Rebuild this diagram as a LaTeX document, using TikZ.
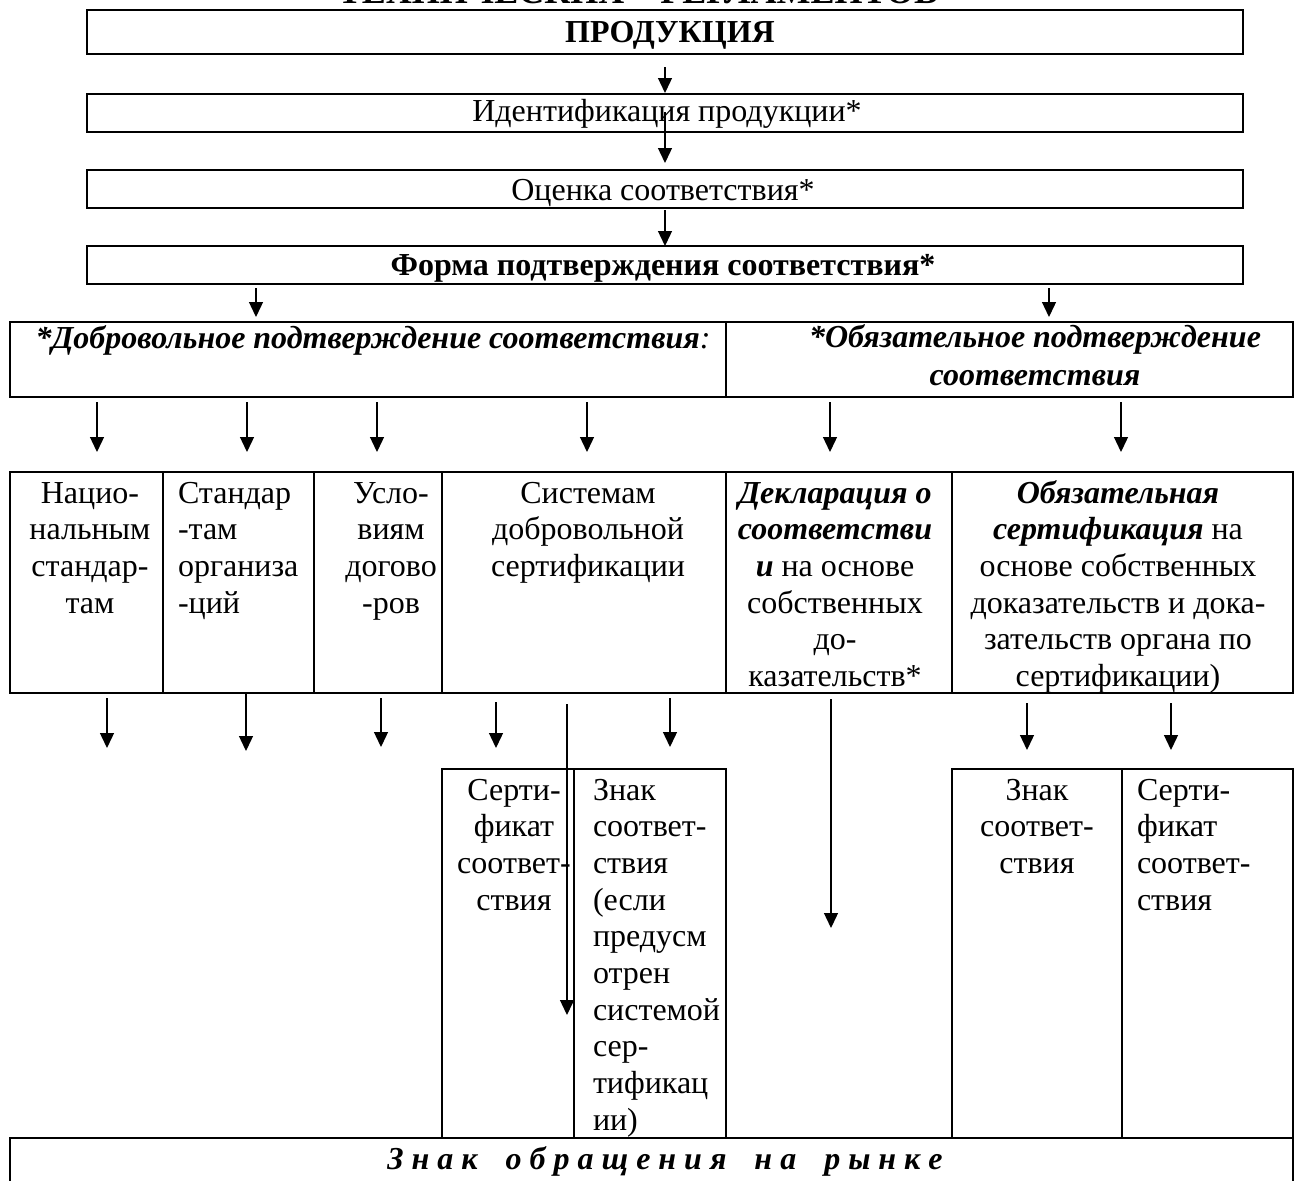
\documentclass[tikz,border=0pt]{standalone}
\usepackage{fontspec}
\setmainfont{Liberation Serif}
\usetikzlibrary{arrows.meta}
\newcommand\myfs{\fontsize{16}{18.35}\selectfont}
\newcommand\bi[1]{\textbf{\textit{#1}}}
\begin{document}
\begin{tikzpicture}[x=0.5pt,y=-0.5pt,
  box/.style={draw, line width=1pt, inner sep=0pt, outer sep=0pt, anchor=north west},
  txt/.style={inner sep=0pt, outer sep=0pt, anchor=base, font=\myfs},
  ctxt/.style={txt, text width=#1, align=flush center},
  ltxt/.style={txt, anchor=base west, text width=#1, align=flush left},
  arr/.style={line width=0.65pt, -{Triangle[length=7.5pt,width=7pt]}},
]
\useasboundingbox (0,0) rectangle (1295,1180);
\clip (0,0) rectangle (1295,1180);

% clipped title
\node[txt, font=\fontsize{18}{20}\selectfont\bfseries] (title) at (638,3) {ТЕХНИЧЕСКИХ – РЕГЛАМЕНТОВ};

% top chain
\node[box, minimum width=578pt, minimum height=22pt] (prod) at (87,10) {};
\node[box, minimum width=578pt, minimum height=19pt] (ident) at (87,94) {};
\node[box, minimum width=578pt, minimum height=19pt] (ocen) at (87,170) {};
\node[box, minimum width=578pt, minimum height=19pt] (forma) at (87,246) {};
\node[txt, font=\myfs\bfseries] (prodT) at (670,42) {ПРОДУКЦИЯ};
\node[txt] (identT) at (667,121) {Идентификация продукции*};
\node[txt] (ocenT) at (663,200) {Оценка соответствия*};
\node[txt, font=\myfs\bfseries] (formaT) at (663,275) {Форма подтверждения соответствия*};

% second level
\node[box, minimum width=358pt, minimum height=37.5pt] (dobr) at (10,322) {};
\node[box, minimum width=283.5pt, minimum height=37.5pt] (obyaz) at (726,322) {};
\node[txt] (dobrT) at (373,348) {\bi{*Добровольное подтверждение соответствия}\textit{:}};
\node[ctxt=270pt] (obyazT) at (1035,347) {\bi{*Обязательное подтверждение}\\[1pt] \bi{соответствия}};

% row of six
\node[box, minimum width=76.5pt, minimum height=110.5pt] (nac) at (10,472) {};
\node[box, minimum width=75.5pt, minimum height=110.5pt] (std) at (163,472) {};
\node[box, minimum width=64pt, minimum height=110.5pt] (usl) at (314,472) {};
\node[box, minimum width=142pt, minimum height=110.5pt] (sys) at (442,472) {};
\node[box, minimum width=113pt, minimum height=110.5pt] (dekl) at (726,472) {};
\node[box, minimum width=170.5pt, minimum height=110.5pt] (obs) at (952,472) {};
\node[ctxt=74pt] (nacT) at (90,503) {Нацио-\\ нальным\\ стандар-\\ там};
\node[ltxt=70pt] (stdT) at (178,503) {Стандар\\ -там\\ организа\\ -ций};
\node[ctxt=62pt] (uslT) at (391,503) {Усло-\\ виям\\ догово\\ -ров};
\node[ctxt=140pt] (sysT) at (588,503) {Системам\\ добровольной\\ сертификации};
\node[ctxt=112pt] (deklT) at (835,503) {\bi{Декларация о}\\ \bi{соответстви}\\ \bi{и} на основе\\ собственных\\ до-\\ казательств*};
\node[ctxt=168pt] (obsT) at (1118,503) {\bi{Обязательная}\\ \bi{сертификация} на\\ основе собственных\\ доказательств и дока-\\ зательств органа по\\ сертификации)};

% lower boxes
\node[box, minimum width=66pt, minimum height=184.5pt] (sert1) at (442,769) {};
\node[box, minimum width=76pt, minimum height=184.5pt] (znak1) at (574,769) {};
\node[box, minimum width=85pt, minimum height=184.5pt] (znak2) at (952,769) {};
\node[box, minimum width=85.5pt, minimum height=184.5pt] (sert2) at (1122,769) {};
\node[ctxt=64pt] (sert1T) at (514,800) {Серти-\\ фикат\\ соответ-\\ ствия};
\node[ltxt=66pt] (znak1T) at (593,800) {Знак\\ соответ-\\ ствия\\ (если\\ предусм\\ отрен\\ системой\\ сер-\\ тификац\\ ии)};
\node[ctxt=84pt] (znak2T) at (1037,800) {Знак\\ соответ-\\ ствия};
\node[ltxt=76pt] (sert2T) at (1137,800) {Серти-\\ фикат\\ соответ-\\ ствия};

% bottom box
\node[box, minimum width=641.5pt, minimum height=30pt] (rynok) at (10,1138) {};
\node[txt, font=\myfs\bfseries\itshape] (rynokT) at (665,1169) {З н а к\hspace{14pt}о б р а щ е н и я\hspace{14pt}н а\hspace{14pt}р ы н к е};

% arrows
\foreach \n/\x/\ya/\yb in {a1/665/67/93, a2/665/112/163, a3/665/210/246,
    a4/256/288/317, a5/1049/288/317,
    b1/97/402/452, b2/247/402/452, b3/377/402/452, b4/587/402/452, b5/830/402/452, b6/1121/402/452,
    c1/107/698/748, c2/246/693/751, c3/381/698/747, c4/496/702/748, c5/567/704/1015,
    c6/670/698/747, c7/831/699/928, c8/1027/703/750, c9/1171/703/750}{
  \coordinate (\n s) at (\x,\ya);
  \coordinate (\n e) at (\x,\yb);
  \draw[arr] (\n s) -- (\n e);
}
\end{tikzpicture}
\end{document}
